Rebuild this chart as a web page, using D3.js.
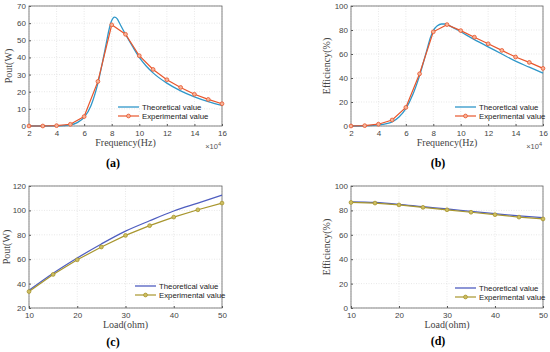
<!DOCTYPE html>
<html><head><meta charset="utf-8">
<script src="https://cdn.jsdelivr.net/npm/d3@7/dist/d3.min.js"></script>
<style>body{margin:0;background:#fff}svg{display:block}</style>
</head><body>
<svg id="c" width="550" height="352"></svg>
<script>
// ---- Data ----
const freqExp = [2,3,4,5,6,7,8,9,10,11,12,13,14,15,16];
const poutExp = [0,0,0.2,1,5.5,26,59,53.5,41,33,27,22.5,18.5,15.5,13];
const freqTh = [2,3,4,4.5,5,5.5,6,6.5,7,7.3,7.6,7.8,8.0,8.2,8.4,8.6,9,9.5,10,10.5,11,12,13,14,15,16];
const poutTh = [0,0,0.05,0.2,0.6,2,5,12,25,36,48,56,61.5,63.5,62.5,59.5,53.5,46.5,40,35,31,25,20.5,17,14.2,12];
const effExpF = [0,0.3,1.5,5,15.5,43.5,78.5,84.5,79.5,74,68.5,63,57.5,53,48];
const freqTh2 = [2,3,4,5,5.5,6,6.5,7,7.5,7.8,8,8.3,8.6,8.9,9.2,10,11,12,13,14,15,16];
const effThF = [0,0.2,0.9,3.5,7.5,14.5,26,42,62,74,79.5,83.5,85,85,83.5,78.5,72,66,60,54,49,44];
const load = [10,15,20,25,30,35,40,45,50];
const poutLoadExp = [33.5,47.5,59.5,70,79.5,87.5,94.5,100.5,106];
const poutLoadTh = [34.5,48.5,61,72.5,83,91.5,99.5,106,112.5];
const effLoadExp = [86.5,86,84.5,82.5,80.5,78.5,76.5,74.5,73];
const effLoadTh = [87,86.5,85,83,81.2,79.2,77.3,75.5,74];
const freqTicks = [2,4,6,8,10,12,14,16];
const loadTicks = [10,20,30,40,50];

const svg = d3.select("#c");
const C1 = {th:"#2F97C9", ex:"#E8562C", exFill:"#F6B49A"};
const C2 = {th:"#4F5EC0", ex:"#A8962E", exFill:"#CDBE62"};

function panel(o){
  const g = svg.append("g");
  const x = d3.scaleLinear().domain(o.xd).range([o.l,o.r]);
  const y = d3.scaleLinear().domain(o.yd).range([o.b,o.t]);
  // grid
  o.xt.forEach(v=>g.append("line").attr("x1",x(v)).attr("x2",x(v)).attr("y1",o.t).attr("y2",o.b)
    .attr("stroke","#d8d8d8").attr("stroke-width",0.6).attr("stroke-dasharray","1,1.5"));
  o.yt.forEach(v=>g.append("line").attr("x1",o.l).attr("x2",o.r).attr("y1",y(v)).attr("y2",y(v))
    .attr("stroke","#d8d8d8").attr("stroke-width",0.6).attr("stroke-dasharray","1,1.5"));
  // axes
  const ax = g.append("g").attr("transform",`translate(0,${o.b})`)
    .call(d3.axisBottom(x).tickValues(o.xt).tickSize(-2).tickPadding(4));
  const ay = g.append("g").attr("transform",`translate(${o.l},0)`)
    .call(d3.axisLeft(y).tickValues(o.yt).tickSize(-2).tickPadding(3));
  [ax,ay].forEach(a=>{a.select(".domain").remove();
    a.selectAll("line").attr("stroke","#555");
    a.selectAll("text").attr("font-family","Liberation Sans, Arial, sans-serif").attr("font-size",8).attr("fill","#444");});
  g.append("rect").attr("x",o.l).attr("y",o.t).attr("width",o.r-o.l).attr("height",o.b-o.t)
    .attr("fill","none").attr("stroke","#666").attr("stroke-width",0.8);
  // lines
  const lineS = d3.line().x(d=>x(d[0])).y(d=>y(d[1])).curve(d3.curveMonotoneX);
  const lineL = d3.line().x(d=>x(d[0])).y(d=>y(d[1]));
  const thD = o.thx.map((v,i)=>[v,o.thy[i]]);
  const exD = o.exx.map((v,i)=>[v,o.exy[i]]);
  g.append("path").datum(thD).attr("d",lineS).attr("fill","none").attr("stroke",o.col.th).attr("stroke-width",1.3);
  g.append("path").datum(exD).attr("d",lineL).attr("fill","none").attr("stroke",o.col.ex).attr("stroke-width",1.2);
  g.selectAll(null).data(exD).enter().append("circle").attr("cx",d=>x(d[0])).attr("cy",d=>y(d[1])).attr("r",1.9)
    .attr("fill",o.col.exFill).attr("stroke",o.col.ex).attr("stroke-width",0.8);
  // labels
  g.append("text").attr("x",(o.l+o.r)/2).attr("y",o.b+20).attr("text-anchor","middle")
    .attr("font-family","Liberation Serif, Times New Roman, serif").attr("font-size",10).attr("fill","#444").text(o.xl);
  g.append("text").attr("transform",`translate(${o.yx},${(o.t+o.b)/2}) rotate(-90)`).attr("text-anchor","middle")
    .attr("font-family","Liberation Serif, Times New Roman, serif").attr("font-size",10).attr("fill","#444").text(o.yl);
  if(o.exp){
    const t = g.append("text").attr("x",o.r-1).attr("y",o.b+23).attr("text-anchor","end")
      .attr("font-family","Liberation Sans, Arial, sans-serif").attr("font-size",7.5).attr("fill","#555");
    t.append("tspan").text("×10");
    t.append("tspan").attr("font-size",5.5).attr("dy",-3).text("4");
  }
  g.append("text").attr("x",o.px).attr("y",o.py).attr("text-anchor","middle")
    .attr("font-family","Liberation Serif, Times New Roman, serif").attr("font-weight","bold").attr("font-size",12).attr("fill","#000").text(o.pl);
  // legend
  const L = o.leg;
  g.append("line").attr("x1",L.x).attr("x2",L.x+21).attr("y1",L.y).attr("y2",L.y).attr("stroke",o.col.th).attr("stroke-width",1.3);
  g.append("line").attr("x1",L.x).attr("x2",L.x+21).attr("y1",L.y+9).attr("y2",L.y+9).attr("stroke",o.col.ex).attr("stroke-width",1.2);
  g.append("circle").attr("cx",L.x+10.5).attr("cy",L.y+9).attr("r",1.9).attr("fill",o.col.exFill).attr("stroke",o.col.ex).attr("stroke-width",0.8);
  [["Theoretical value",0],["Experimental value",9]].forEach(([s,dy])=>
    g.append("text").attr("x",L.x+24).attr("y",L.y+dy+3).attr("font-family","Liberation Sans, Arial, sans-serif")
      .attr("font-size",7.8).attr("fill","#222").text(s));
}

panel({l:29,r:222,t:6,b:126,xd:[2,16],yd:[0,70],xt:freqTicks,yt:[0,10,20,30,40,50,60,70],
  thx:freqTh,thy:poutTh,exx:freqExp,exy:poutExp,col:C1,xl:"Frequency(Hz)",yl:"Pout(W)",yx:12,exp:true,
  pl:"(a)",px:113,py:167,leg:{x:118,y:107}});
panel({l:351,r:543,t:6,b:126,xd:[2,16],yd:[0,100],xt:freqTicks,yt:[0,20,40,60,80,100],
  thx:freqTh2,thy:effThF,exx:freqExp,exy:effExpF,col:C1,xl:"Frequency(Hz)",yl:"Efficiency(%)",yx:330,exp:true,
  pl:"(b)",px:438,py:167,leg:{x:455,y:107}});
panel({l:29,r:222,t:186,b:308,xd:[10,50],yd:[20,120],xt:loadTicks,yt:[20,40,60,80,100,120],
  thx:load,thy:poutLoadTh,exx:load,exy:poutLoadExp,col:C2,xl:"Load(ohm)",yl:"Pout(W)",yx:10,exp:false,
  pl:"(c)",px:113,py:346,leg:{x:135,y:286}});
panel({l:351,r:543,t:186,b:308,xd:[10,50],yd:[0,100],xt:loadTicks,yt:[0,20,40,60,80,100],
  thx:load,thy:effLoadTh,exx:load,exy:effLoadExp,col:C2,xl:"Load(ohm)",yl:"Efficiency(%)",yx:330,exp:false,
  pl:"(d)",px:438,py:345,leg:{x:455,y:288}});
</script>
</body></html>
